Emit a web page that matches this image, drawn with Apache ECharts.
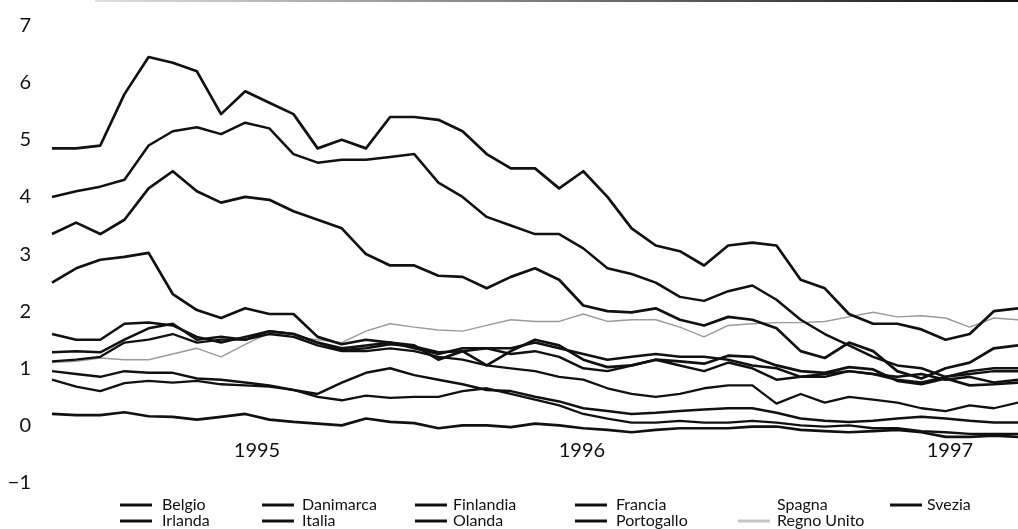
<!DOCTYPE html>
<html>
<head>
<meta charset="utf-8">
<script src="https://cdn.jsdelivr.net/npm/echarts@6/dist/echarts.min.js"></script>
<style>
  html, body { margin: 0; padding: 0; background: #fff; }
  #chart { width: 1018px; height: 529px; }
</style>
</head>
<body>
<div id="chart"></div>
<script>
// sampling grid: decimal years, ~24 days apart (Jul 1994 - Mar 1997)
const tStart = 1994.56;
const tEnd = 1997.185;
const nPts = 41;
const t = Array.from({ length: nPts }, (_, i) => tStart + (i * (tEnd - tStart)) / (nPts - 1));

// year labels on the time axis
const yearTicks = [1995.117, 1996.0, 1997.0];
const yearLabels = ['1995', '1996', '1997'];

// spreads (percentage points)
const italia = [4.85, 4.85, 4.9, 5.8, 6.45, 6.35, 6.2, 5.45, 5.85, 5.65, 5.45, 4.85, 5.0, 4.85, 5.4, 5.4, 5.35, 5.15, 4.75, 4.5, 4.5, 4.15, 4.45, 4.0, 3.45, 3.15, 3.05, 2.8, 3.15, 3.2, 3.15, 2.55, 2.4, 1.95, 1.78, 1.78, 1.68, 1.5, 1.6, 2.0, 2.05];
const spagna = [4.0, 4.1, 4.18, 4.3, 4.9, 5.15, 5.22, 5.1, 5.3, 5.2, 4.75, 4.6, 4.65, 4.65, 4.7, 4.75, 4.25, 4.0, 3.65, 3.5, 3.35, 3.35, 3.1, 2.75, 2.65, 2.5, 2.25, 2.18, 2.35, 2.45, 2.2, 1.85, 1.6, 1.4, 1.2, 1.05, 1.0, 0.85, 0.95, 1.0, 1.0];
const svezia = [3.35, 3.55, 3.35, 3.6, 4.15, 4.45, 4.1, 3.9, 4.0, 3.95, 3.75, 3.6, 3.45, 3.0, 2.8, 2.8, 2.62, 2.6, 2.4, 2.6, 2.75, 2.55, 2.1, 2.0, 1.98, 2.05, 1.85, 1.75, 1.9, 1.85, 1.7, 1.3, 1.18, 1.45, 1.3, 0.95, 0.82, 1.0, 1.1, 1.35, 1.4];
const portogallo = [2.5, 2.75, 2.9, 2.95, 3.02, 2.3, 2.02, 1.88, 2.05, 1.95, 1.95, 1.55, 1.42, 1.5, 1.45, 1.4, 1.15, 1.3, 1.05, 1.3, 1.5, 1.4, 1.15, 1.02, 1.05, 1.15, 1.12, 1.08, 1.22, 1.2, 1.05, 0.95, 0.92, 1.02, 0.98, 0.78, 0.72, 0.82, 0.7, 0.72, 0.75];
const irlanda = [1.6, 1.5, 1.5, 1.78, 1.8, 1.75, 1.55, 1.45, 1.55, 1.65, 1.6, 1.45, 1.35, 1.4, 1.45, 1.35, 1.25, 1.35, 1.35, 1.25, 1.3, 1.2, 1.0, 0.95, 1.05, 1.15, 1.05, 0.95, 1.1, 1.0, 0.8, 0.85, 0.9, 0.95, 0.9, 0.85, 0.9, 0.8, 0.85, 0.75, 0.8];
const finlandia = [1.28, 1.3, 1.28, 1.5, 1.7, 1.78, 1.5, 1.55, 1.5, 1.65, 1.6, 1.45, 1.32, 1.35, 1.42, 1.38, 1.28, 1.3, 1.35, 1.35, 1.45, 1.35, 1.25, 1.15, 1.2, 1.25, 1.2, 1.2, 1.15, 1.05, 1.0, 0.85, 0.85, 0.95, 0.9, 0.8, 0.75, 0.85, 0.9, 0.95, 0.95];
const danimarca = [1.12, 1.15, 1.2, 1.45, 1.5, 1.6, 1.45, 1.5, 1.5, 1.6, 1.55, 1.4, 1.3, 1.3, 1.35, 1.3, 1.2, 1.15, 1.05, 1.0, 0.95, 0.85, 0.8, 0.65, 0.55, 0.5, 0.55, 0.65, 0.7, 0.7, 0.38, 0.55, 0.4, 0.5, 0.45, 0.4, 0.3, 0.25, 0.35, 0.3, 0.4];
const belgio = [0.95, 0.9, 0.85, 0.95, 0.92, 0.92, 0.82, 0.8, 0.75, 0.7, 0.62, 0.55, 0.75, 0.92, 1.0, 0.88, 0.8, 0.72, 0.62, 0.6, 0.5, 0.42, 0.3, 0.25, 0.2, 0.22, 0.25, 0.28, 0.3, 0.3, 0.22, 0.12, 0.08, 0.06, 0.08, 0.12, 0.15, 0.12, 0.08, 0.05, 0.05];
const francia = [0.8, 0.68, 0.6, 0.74, 0.78, 0.75, 0.78, 0.72, 0.7, 0.68, 0.62, 0.5, 0.44, 0.52, 0.48, 0.5, 0.5, 0.6, 0.65, 0.55, 0.45, 0.35, 0.2, 0.12, 0.05, 0.05, 0.08, 0.05, 0.05, 0.08, 0.05, 0.0, -0.02, 0.0, -0.05, -0.05, -0.1, -0.12, -0.15, -0.15, -0.15];
const olanda = [0.2, 0.18, 0.18, 0.23, 0.16, 0.15, 0.1, 0.15, 0.2, 0.1, 0.06, 0.03, 0.0, 0.12, 0.06, 0.04, -0.05, 0.0, 0.0, -0.03, 0.03, 0.0, -0.05, -0.08, -0.12, -0.08, -0.05, -0.05, -0.05, -0.02, -0.02, -0.08, -0.1, -0.12, -0.1, -0.08, -0.12, -0.2, -0.2, -0.18, -0.2];
const regnoUnito = [1.1, 1.12, 1.18, 1.15, 1.15, 1.25, 1.35, 1.2, 1.42, 1.62, 1.55, 1.5, 1.45, 1.65, 1.78, 1.72, 1.67, 1.65, 1.75, 1.85, 1.82, 1.82, 1.95, 1.82, 1.85, 1.85, 1.72, 1.55, 1.75, 1.78, 1.8, 1.8, 1.82, 1.9, 1.98, 1.9, 1.92, 1.88, 1.72, 1.88, 1.85];

const lines = [
  { name: 'Regno Unito', data: regnoUnito, color: '#9a9a9a', width: 1.4 },
  { name: 'Italia', data: italia, width: 2.7 },
  { name: 'Spagna', data: spagna, width: 2.5 },
  { name: 'Svezia', data: svezia, width: 2.7 },
  { name: 'Portogallo', data: portogallo, width: 2.7 },
  { name: 'Irlanda', data: irlanda, width: 2.5 },
  { name: 'Finlandia', data: finlandia, width: 2.5 },
  { name: 'Danimarca', data: danimarca, width: 2.3 },
  { name: 'Belgio', data: belgio, width: 2.5 },
  { name: 'Francia', data: francia, width: 2.3 },
  { name: 'Olanda', data: olanda, width: 2.7 },
];

const legendCols = [
  { left: 120, gap: 10, names: ['Belgio', 'Irlanda'] },
  { left: 262, gap: 8, names: ['Danimarca', 'Italia'] },
  { left: 415, gap: 6, names: ['Finlandia', 'Olanda'] },
  { left: 575, gap: 9, names: ['Francia', 'Portogallo'] },
  { left: 738, gap: 7, names: ['Spagna', 'Regno Unito'] },
  { left: 890, gap: 5, names: ['Svezia'] },
];

const font = 'Lato, "Open Sans", sans-serif';
const chart = echarts.init(document.getElementById('chart'));

function legendItem(n) {
  if (n === 'Spagna') return { name: n, itemStyle: { opacity: 0 } };
  if (n === 'Regno Unito') return { name: n, itemStyle: { color: '#c4c4c4' } };
  return { name: n };
}

chart.setOption({
  animation: false,
  backgroundColor: '#fff',
  grid: { left: 52, right: 0, top: 25.6, bottom: 46.5, containLabel: false },
  graphic: [{
    type: 'rect',
    silent: true,
    shape: { x: 95, y: 0, width: 923, height: 2 },
    style: {
      fill: new echarts.graphic.LinearGradient(0, 0, 1, 0, [
        { offset: 0, color: '#e0e0e0' },
        { offset: 0.5, color: '#777' },
        { offset: 1, color: '#111' },
      ]),
    },
  }],
  xAxis: {
    type: 'value',
    min: tStart,
    max: tEnd,
    axisLine: { show: false },
    axisTick: { show: false },
    splitLine: { show: false },
    axisLabel: {
      inside: true,
      margin: 22,
      customValues: yearTicks,
      fontFamily: font,
      fontSize: 20,
      color: '#111',
      formatter: (v) => {
        const i = yearTicks.findIndex((y) => Math.abs(y - v) < 1e-6);
        return i >= 0 ? yearLabels[i] : '';
      },
    },
  },
  yAxis: {
    type: 'value',
    min: -1,
    max: 7,
    interval: 1,
    axisLine: { show: false },
    axisTick: { show: false },
    splitLine: { show: false },
    axisLabel: {
      margin: 21,
      fontFamily: font,
      fontSize: 20,
      color: '#111',
      formatter: (v) => (v < 0 ? '\u2212' + Math.abs(v) : String(v)),
    },
  },
  legend: legendCols.map((c) => ({
    orient: 'vertical',
    left: c.left,
    top: 497,
    height: 200,
    padding: 0,
    itemGap: 0,
    itemWidth: 32,
    itemHeight: 3,
    icon: 'rect',
    selectedMode: false,
    textStyle: {
      fontFamily: font,
      fontSize: 16,
      lineHeight: 16,
      color: '#111',
      padding: [0, 0, 0, c.gap - 5],
    },
    data: c.names.map(legendItem),
  })),
  series: lines.map((l) => ({
    name: l.name,
    type: 'line',
    symbol: 'none',
    showSymbol: false,
    silent: true,
    data: t.map((x, i) => [x, l.data[i]]),
    lineStyle: { color: l.color || '#111', width: l.width, join: 'round' },
    itemStyle: { color: l.color || '#111' },
  })),
});
</script>
</body>
</html>
